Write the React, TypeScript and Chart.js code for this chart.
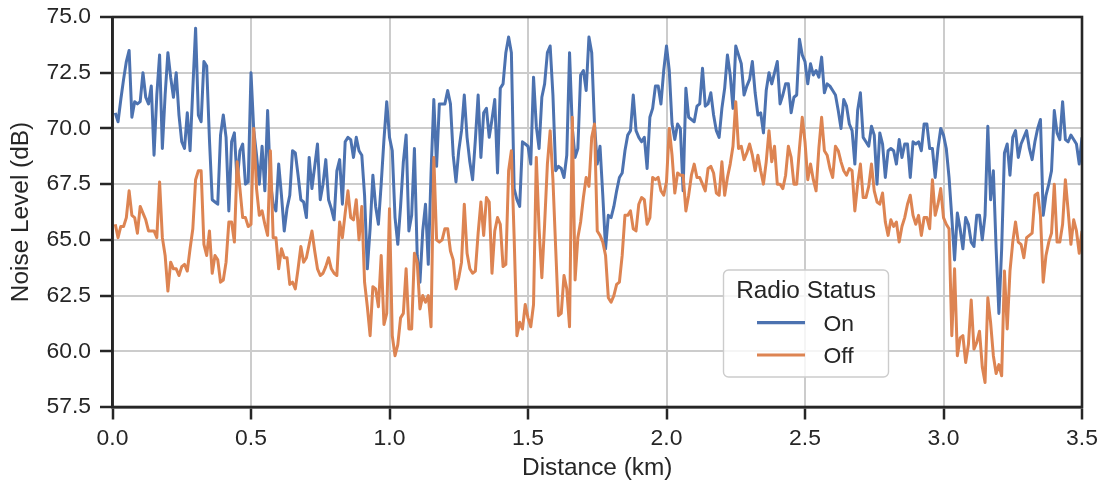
import React, { useEffect, useRef } from "react";
import { Chart, registerables } from "chart.js";

Chart.register(...registerables);

// Distance sampling (km)
const START_KM = 0.01;
const STEP_KM = 0.01;

// Noise level with radio ON (dB)
const noiseOn = [
  70.7, 70.3, 71.3, 72.2, 73.0, 73.5, 70.5, 71.2, 71.1, 71.2,
  72.5, 71.4, 71.1, 71.9, 68.8, 71.5, 73.3, 69.1, 71.5, 73.4,
  72.3, 71.4, 72.5, 70.6, 69.4, 69.1, 70.7, 69.0, 71.8, 74.5,
  70.6, 70.3, 73.0, 72.8, 69.5, 66.8, 66.7, 66.6, 69.7, 70.6,
  69.6, 66.3, 69.4, 69.8, 67.6, 69.0, 69.3, 67.5, 67.6, 72.5,
  69.9, 68.8, 67.5, 69.2, 67.2, 70.8, 67.6, 66.6, 66.3, 68.4,
  67.0, 65.4, 66.4, 67.0, 69.0, 68.9, 67.9, 66.8, 66.7, 66.0,
  68.7, 67.3, 68.3, 69.3, 66.8, 67.5, 68.6, 66.8, 66.4, 65.9,
  68.1, 68.6, 66.6, 69.4, 69.6, 69.5, 68.7, 69.6, 69.0, 68.8,
  67.0, 63.7, 65.5, 67.9, 66.5, 65.7, 67.5, 69.5, 71.2, 69.6,
  69.0, 66.0, 64.8, 66.5, 68.5, 69.7, 65.4, 66.1, 69.1, 64.3,
  63.1, 65.4, 66.6, 63.9, 68.0, 71.3, 68.3, 71.1, 71.1, 71.1,
  71.7, 71.1, 68.8, 67.6, 69.0, 69.9, 71.5, 69.6, 68.5, 67.7,
  69.5, 71.5, 68.7, 70.7, 70.9, 69.6, 70.4, 71.3, 68.0, 71.8,
  72.0, 73.4, 74.1, 73.4, 67.3, 66.8, 66.5, 69.4, 69.3, 69.2,
  68.4, 72.3, 70.1, 69.1, 71.4, 72.0, 73.4, 73.7, 71.5, 68.1,
  68.3, 68.2, 67.8, 68.8, 73.4, 70.0, 68.7, 69.1, 72.4, 72.6,
  71.7, 74.1, 73.4, 70.2, 68.4, 69.2, 67.0, 64.6, 66.1, 66.0,
  66.5, 67.2, 67.8, 68.0, 69.0, 69.7, 69.9, 71.5, 69.9, 69.6,
  69.4, 69.6, 68.2, 70.5, 70.9, 71.9, 71.9, 71.1, 72.6, 73.7,
  72.6, 70.2, 69.5, 70.2, 70.0, 67.2, 71.8, 70.5, 70.4, 70.3,
  71.0, 71.1, 72.7, 71.0, 71.1, 71.6, 70.6, 69.9, 69.6, 70.9,
  71.8, 73.3, 72.4, 70.9, 73.7, 73.3, 72.9, 71.5, 71.9, 72.2,
  73.0, 71.6, 70.6, 70.7, 69.8, 71.7, 72.5, 72.0, 72.5, 73.0,
  71.1, 71.5, 72.0, 72.0, 70.7, 71.4, 71.5, 74.0, 73.3, 73.0,
  72.0, 72.9, 72.4, 72.6, 72.3, 73.2, 71.6, 72.0, 71.9, 71.7,
  71.5, 70.8, 70.0, 71.3, 71.0, 70.2, 69.9, 68.4, 70.8, 71.6,
  69.6, 69.4, 69.2, 70.1, 69.7, 67.5, 69.8, 69.3, 67.8, 69.0,
  69.1, 69.0, 68.4, 69.5, 68.7, 69.3, 69.3, 67.8, 69.4, 69.3,
  69.4, 69.0, 70.2, 70.2, 69.1, 69.1, 67.8, 69.1, 70.0, 69.7,
  69.1, 67.8, 66.0, 64.1, 66.2, 65.5, 64.6, 66.0, 65.7, 64.9,
  64.7, 66.1, 66.1, 65.0, 66.1, 70.1, 66.8, 68.1, 64.6, 61.7,
  64.6, 68.9, 69.3, 67.9, 69.6, 69.9, 68.7, 69.3, 69.6, 69.9,
  69.1, 68.6, 69.4, 70.0, 70.4, 66.1, 67.0, 67.5, 68.1, 70.8,
  69.8, 69.5, 71.2, 69.5, 69.4, 69.7, 69.5, 69.3, 68.4, 69.6,
];

// Noise level with radio OFF (dB)
const noiseOff = [
  65.7, 65.1, 65.6, 65.6, 66.0, 67.2, 66.1, 66.0, 65.3, 66.5,
  66.2, 65.9, 65.4, 65.4, 65.4, 65.1, 67.6, 65.1, 64.3, 62.7,
  64.0, 63.7, 63.7, 63.4, 63.8, 63.9, 63.6, 64.6, 65.5, 67.7,
  68.1, 68.1, 64.8, 64.3, 65.4, 63.5, 64.3, 64.1, 63.1, 63.2,
  64.0, 65.8, 65.8, 64.9, 68.5, 67.3, 66.0, 66.0, 65.6, 65.7,
  70.0, 67.3, 66.1, 66.3, 65.7, 65.2, 69.0, 65.1, 65.1, 63.7,
  64.6, 64.2, 64.2, 63.0, 63.1, 62.8, 63.7, 64.7, 64.0, 64.2,
  64.8, 65.4, 64.5, 63.7, 63.4, 63.5, 63.8, 64.2, 63.7, 63.5,
  63.4, 65.8, 65.1, 66.2, 67.2, 66.0, 65.9, 66.8, 65.0, 66.5,
  63.1, 62.0, 60.7, 62.9, 62.8, 62.0, 64.3, 61.2, 61.7, 66.4,
  60.7, 59.8, 60.3, 61.5, 61.7, 63.7, 61.0, 61.0, 64.4, 64.0,
  61.9, 62.5, 62.2, 62.5, 61.1, 68.7, 65.0, 64.9, 65.0, 65.5,
  65.5, 64.5, 64.1, 62.8, 63.3, 64.0, 66.6, 64.4, 63.7, 63.5,
  63.6, 65.3, 66.7, 65.2, 66.9, 66.7, 63.5, 65.4, 66.0, 65.7,
  63.8, 63.9, 68.1, 69.0, 65.1, 60.7, 61.3, 61.0, 62.1, 61.5,
  61.1, 62.1, 68.7, 65.5, 63.3, 65.7, 68.4, 69.9, 67.7, 64.6,
  61.6, 61.7, 63.4, 62.8, 61.1, 70.5, 63.2, 65.1, 65.8, 66.9,
  67.8, 67.4, 69.6, 70.2, 65.4, 65.2, 64.9, 64.3, 62.4, 62.2,
  62.5, 63.0, 63.1, 64.3, 66.1, 66.1, 66.3, 65.5, 65.4, 66.6,
  66.9, 66.8, 65.7, 66.0, 67.8, 67.7, 67.8, 67.2, 67.0, 67.6,
  70.0, 68.8, 67.1, 68.0, 67.9, 67.9, 66.3, 67.0, 67.9, 68.4,
  67.8, 67.8, 67.5, 67.2, 68.2, 68.3, 68.0, 67.1, 67.0, 68.5,
  67.0, 67.8, 68.4, 69.2, 71.2, 69.1, 69.2, 68.6, 68.9, 69.3,
  68.8, 68.1, 68.8, 68.1, 67.5, 68.5, 69.9, 68.5, 69.2, 67.5,
  67.5, 67.3, 67.9, 69.2, 68.7, 67.5, 67.5, 69.1, 70.5, 69.4,
  67.7, 68.4, 67.7, 67.2, 69.1, 70.5, 69.0, 68.8, 68.2, 67.8,
  69.2, 69.0, 68.5, 68.1, 67.9, 68.2, 68.1, 66.3, 67.5, 68.4,
  66.9, 66.9, 67.4, 68.4, 67.2, 66.7, 66.6, 67.1, 65.8, 65.2,
  65.9, 65.6, 65.8, 64.9, 65.6, 66.0, 66.6, 67.0, 66.1, 65.7,
  66.1, 65.2, 66.0, 66.0, 65.5, 67.7, 66.1, 66.6, 67.3, 66.0,
  65.7, 65.5, 60.7, 63.7, 59.8, 60.6, 60.7, 59.5, 60.3, 62.3,
  60.1, 60.4, 60.9, 59.3, 58.6, 62.4, 61.3, 59.8, 59.0, 59.4,
  58.9, 63.6, 61.0, 63.6, 64.9, 65.8, 64.9, 64.8, 64.2, 65.1,
  65.2, 65.3, 67.0, 67.1, 66.1, 63.1, 64.3, 64.9, 65.3, 67.5,
  64.9, 64.9, 65.7, 67.7, 66.3, 64.8, 65.9, 65.4, 64.4, 65.4,
];

const xTicks = [0.0, 0.5, 1.0, 1.5, 2.0, 2.5, 3.0, 3.5];
const yTicks = [57.5, 60.0, 62.5, 65.0, 67.5, 70.0, 72.5, 75.0];
const seriesNames = ["On", "Off"];
const legendTitle = "Radio Status";
const xTitle = "Distance (km)";
const yTitle = "Noise Level (dB)";

const COLOR_ON = "#4c72b0";
const COLOR_OFF = "#dd8452";
const INK = "#262626";
const GRID = "#cccccc";
const FONT = "'Liberation Sans', Arial, Helvetica, sans-serif";

const toPoints = (vals: number[]) =>
  vals.map((y, i) => ({ x: +(START_KM + i * STEP_KM).toFixed(3), y }));

const frameAndLegend = {
  id: "frameAndLegend",
  afterDatasetsDraw(chart: any) {
    const { ctx, chartArea: ca } = chart;
    ctx.save();
    ctx.strokeStyle = INK;
    ctx.lineWidth = 2.6;
    ctx.strokeRect(ca.left, ca.top, ca.right - ca.left, ca.bottom - ca.top);
    ctx.restore();
  },
  afterDraw(chart: any) {
    const { ctx, chartArea: ca } = chart;
    const bx = ca.left + 611;
    const by = ca.top + 253;
    const bw = 165;
    const bh = 107;
    const r = 5;
    ctx.save();
    ctx.beginPath();
    ctx.moveTo(bx + r, by);
    ctx.lineTo(bx + bw - r, by);
    ctx.arcTo(bx + bw, by, bx + bw, by + r, r);
    ctx.lineTo(bx + bw, by + bh - r);
    ctx.arcTo(bx + bw, by + bh, bx + bw - r, by + bh, r);
    ctx.lineTo(bx + r, by + bh);
    ctx.arcTo(bx, by + bh, bx, by + bh - r, r);
    ctx.lineTo(bx, by + r);
    ctx.arcTo(bx, by, bx + r, by, r);
    ctx.closePath();
    ctx.fillStyle = "rgba(255,255,255,0.8)";
    ctx.fill();
    ctx.strokeStyle = GRID;
    ctx.lineWidth = 1.4;
    ctx.stroke();

    ctx.fillStyle = INK;
    ctx.textBaseline = "alphabetic";
    ctx.textAlign = "center";
    ctx.font = `24.4px ${FONT}`;
    ctx.fillText(legendTitle, bx + bw / 2, by + 28.3);

    const colors = [COLOR_ON, COLOR_OFF];
    const lineYs = [by + 52.7, by + 85];
    const textYs = [by + 60.7, by + 93.3];
    ctx.font = `22.9px ${FONT}`;
    ctx.textAlign = "left";
    seriesNames.forEach((name, i) => {
      ctx.strokeStyle = colors[i];
      ctx.lineWidth = 3.2;
      ctx.lineCap = "butt";
      ctx.beginPath();
      ctx.moveTo(bx + 33.5, lineYs[i]);
      ctx.lineTo(bx + 81.5, lineYs[i]);
      ctx.stroke();
      ctx.fillStyle = INK;
      ctx.fillText(name, bx + 100, textYs[i]);
    });
    ctx.restore();
  },
};

export default function App() {
  const canvasRef = useRef<HTMLCanvasElement | null>(null);

  useEffect(() => {
    if (!canvasRef.current) return;
    Chart.defaults.font.family = FONT;
    Chart.defaults.color = INK;
    const chart = new Chart(canvasRef.current, {
      type: "line",
      data: {
        datasets: [
          {
            label: seriesNames[0],
            data: toPoints(noiseOn),
            borderColor: COLOR_ON,
            backgroundColor: COLOR_ON,
            borderWidth: 3,
            pointRadius: 0,
            tension: 0,
            borderJoinStyle: "round",
            order: 1,
          },
          {
            label: seriesNames[1],
            data: toPoints(noiseOff),
            borderColor: COLOR_OFF,
            backgroundColor: COLOR_OFF,
            borderWidth: 3,
            pointRadius: 0,
            tension: 0,
            borderJoinStyle: "round",
            order: 0,
          },
        ],
      },
      options: {
        animation: false,
        responsive: false,
        devicePixelRatio: 1,
        layout: { padding: { left: 0, right: 27, top: 17, bottom: 0 } },
        plugins: { legend: { display: false }, tooltip: { enabled: false } },
        scales: {
          x: {
            type: "linear",
            min: xTicks[0],
            max: xTicks[xTicks.length - 1],
            afterBuildTicks: (s: any) => {
              s.ticks = xTicks.map((v) => ({ value: v }));
            },
            afterFit: (s: any) => {
              s.height = 82;
              s.paddingLeft = 10;
              s.paddingRight = 10;
            },
            ticks: {
              callback: (v: any) => Number(v).toFixed(1),
              padding: 5,
              maxRotation: 0,
              autoSkip: false,
              color: INK,
              font: { size: 22.9 },
            },
            grid: {
              color: GRID,
              lineWidth: 2,
              drawTicks: true,
              tickLength: 12.5,
              tickColor: INK,
              tickWidth: 2.5,
            },
            border: { display: true, color: INK, width: 2.6 },
            title: {
              display: true,
              text: xTitle,
              color: INK,
              font: { size: 24.4 },
              padding: { top: 0, bottom: 6 },
            },
          },
          y: {
            type: "linear",
            min: yTicks[0],
            max: yTicks[yTicks.length - 1],
            afterBuildTicks: (s: any) => {
              s.ticks = yTicks.map((v) => ({ value: v }));
            },
            afterFit: (s: any) => {
              s.width = 112.5;
              s.paddingTop = 10;
              s.paddingBottom = 10;
            },
            ticks: {
              callback: (v: any) => Number(v).toFixed(1),
              padding: 9,
              autoSkip: false,
              color: INK,
              font: { size: 22.9 },
            },
            grid: {
              color: GRID,
              lineWidth: 2,
              drawTicks: true,
              tickLength: 12.5,
              tickColor: INK,
              tickWidth: 2.5,
            },
            border: { display: true, color: INK, width: 2.6 },
            title: {
              display: true,
              text: yTitle,
              color: INK,
              font: { size: 24.4 },
              padding: { top: 7, bottom: 0 },
            },
          },
        },
      },
      plugins: [frameAndLegend],
    } as any);
    return () => chart.destroy();
  }, []);

  return (
    <div
      style={{
        position: "absolute",
        left: 0,
        top: 0,
        width: 1109,
        height: 489,
        background: "#ffffff",
      }}
    >
      <canvas ref={canvasRef} width={1109} height={489} />
    </div>
  );
}
